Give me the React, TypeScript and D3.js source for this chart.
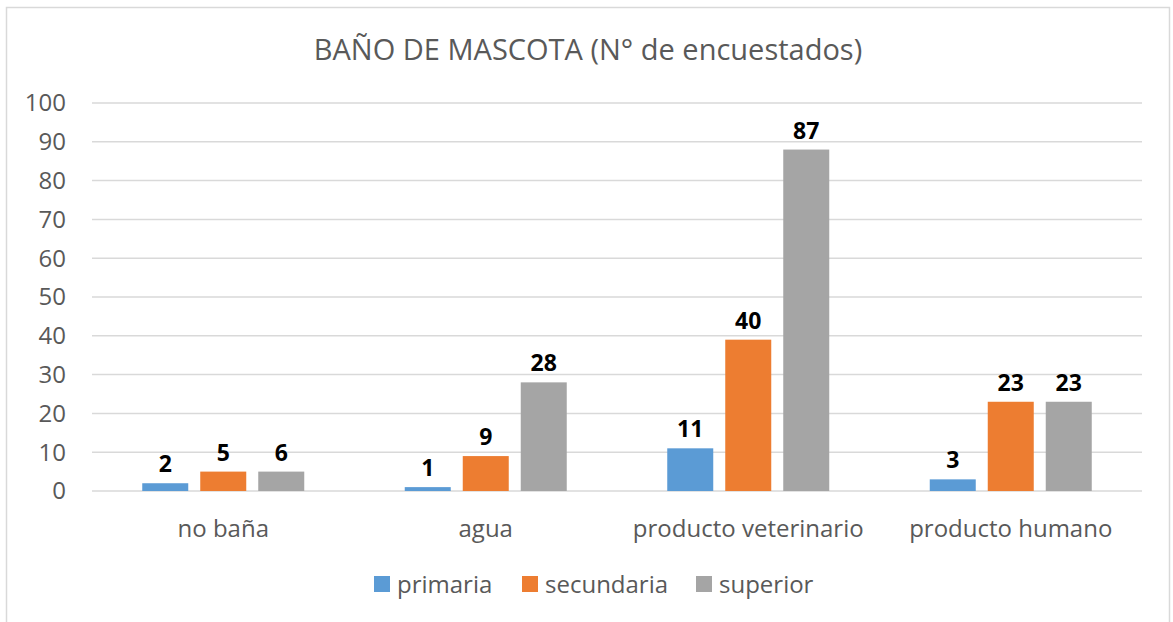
import * as d3 from "d3";
import { useEffect, useRef } from "react";

const categories = ["no baña", "agua", "producto veterinario", "producto humano"];
const seriesNames = ["primaria", "secundaria", "superior"];
const seriesColors = ["#5b9bd5", "#ed7d31", "#a5a5a5"];
// bar heights as drawn
const primaria = [2, 1, 11, 3];
const secundaria = [5, 9, 39, 23];
const superior = [5, 28, 88, 23];
// data labels as printed
const primariaLabels = ["2", "1", "11", "3"];
const secundariaLabels = ["5", "9", "40", "23"];
const superiorLabels = ["6", "28", "87", "23"];
const yTicks = [0, 10, 20, 30, 40, 50, 60, 70, 80, 90, 100];

const FONT = "'Open Sans', sans-serif";

export default function App() {
  const ref = useRef(null);

  useEffect(() => {
    var width = 1173;
    var height = 622;
    var margin = { left: 92, right: 31, top: 103, bottom: 131 };

    var svg = d3
      .select(ref.current)
      .append("svg")
      .attr("width", width)
      .attr("height", height)
      .style("display", "block");

    svg.append("rect").attr("width", width).attr("height", height).attr("fill", "white");

    // chart border
    svg
      .append("rect")
      .attr("x", 6.5)
      .attr("y", 7.5)
      .attr("width", 1163)
      .attr("height", 640)
      .attr("fill", "none")
      .attr("stroke", "#d9d9d9")
      .attr("stroke-width", 1.5);

    svg
      .append("text")
      .attr("x", 588)
      .attr("y", 60)
      .attr("text-anchor", "middle")
      .style("font-family", FONT)
      .style("font-size", "29px")
      .attr("fill", "#595959")
      .text("BAÑO DE MASCOTA (N° de encuestados)");

    var x = d3
      .scaleBand()
      .domain(categories)
      .range([margin.left, width - margin.right]);

    var y = d3
      .scaleLinear()
      .domain([0, 100])
      .range([height - margin.bottom, margin.top]);

    var g = svg.append("g");

    // gridlines
    g.selectAll("grid")
      .data(yTicks)
      .enter()
      .append("line")
      .attr("x1", margin.left)
      .attr("x2", width - margin.right)
      .attr("y1", (d) => y(d))
      .attr("y2", (d) => y(d))
      .attr("stroke", "#d9d9d9")
      .attr("stroke-width", 1.5);

    g.selectAll("ytick")
      .data(yTicks)
      .enter()
      .append("text")
      .attr("x", 66)
      .attr("y", (d) => y(d))
      .attr("dy", "0.35em")
      .attr("text-anchor", "end")
      .style("font-family", FONT)
      .style("font-size", "24px")
      .attr("fill", "#595959")
      .text((d) => d);

    g.selectAll("xlabel")
      .data(categories)
      .enter()
      .append("text")
      .attr("x", (d) => x(d)! + x.bandwidth() / 2)
      .attr("y", 537)
      .attr("text-anchor", "middle")
      .style("font-family", FONT)
      .style("font-size", "24px")
      .attr("fill", "#595959")
      .text((d) => d);

    var barWidth = 46;
    var gap = 12;
    var series = [primaria, secundaria, superior];
    var labels = [primariaLabels, secundariaLabels, superiorLabels];

    series.forEach((values, si) => {
      var offset = (si - 1) * (barWidth + gap) - barWidth / 2;
      g.selectAll("bars" + si)
        .data(values)
        .enter()
        .append("rect")
        .attr("x", (d, i) => x(categories[i])! + x.bandwidth() / 2 + offset)
        .attr("y", (d) => y(d))
        .attr("width", barWidth)
        .attr("height", (d) => y(0) - y(d))
        .attr("fill", seriesColors[si]);

      g.selectAll("labels" + si)
        .data(values)
        .enter()
        .append("text")
        .attr("x", (d, i) => x(categories[i])! + x.bandwidth() / 2 + offset + barWidth / 2)
        .attr("y", (d) => y(d) - 11)
        .attr("text-anchor", "middle")
        .style("font-family", FONT)
        .style("font-size", "23px")
        .style("font-weight", "bold")
        .attr("fill", "black")
        .text((d, i) => labels[si][i]);
    });

    // legend
    var legendX = [374, 522, 696];
    seriesNames.forEach((name, i) => {
      svg
        .append("rect")
        .attr("x", legendX[i])
        .attr("y", 576)
        .attr("width", 16)
        .attr("height", 16)
        .attr("fill", seriesColors[i]);
      svg
        .append("text")
        .attr("x", legendX[i] + 23)
        .attr("y", 593)
        .style("font-family", FONT)
        .style("font-size", "24px")
        .attr("fill", "#595959")
        .text(name);
    });

    return function () {
      svg.remove();
    };
  }, []);

  return (
    <div ref={ref} style={{ position: "absolute", left: 0, top: 0 }} />
  );
}
